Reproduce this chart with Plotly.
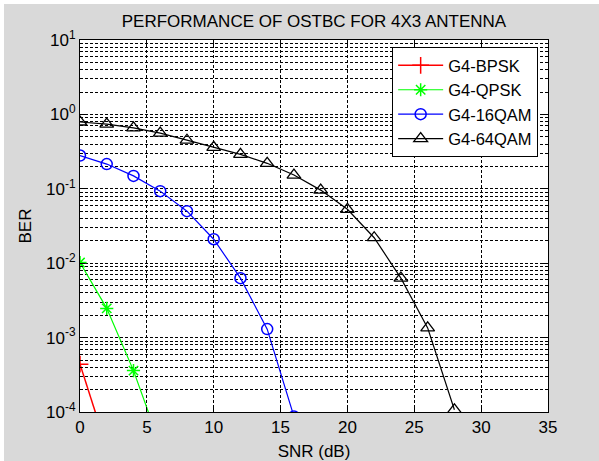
import plotly.graph_objects as go

snr_bpsk = [0, 2]
ber_bpsk = [4.4e-4, 3.3e-5]
snr_qpsk = [0, 2, 4, 6]
ber_qpsk = [1.02e-2, 2.47e-3, 3.6e-4, 3.6e-5]
snr_16qam = [0, 2, 4, 6, 8, 10, 12, 14, 16]
ber_16qam = [0.28, 0.215, 0.149, 0.093, 0.050, 0.021, 0.0063, 0.0013, 8.7e-5]
snr_64qam = [0, 2, 4, 6, 8, 10, 12, 14, 16, 18, 20, 22, 24, 26, 28]
ber_64qam = [0.79, 0.74, 0.66, 0.56, 0.45, 0.36, 0.29, 0.22, 0.153, 0.096,
             0.053, 0.022, 0.0063, 0.00135, 1.07e-4]

y_tickvals = [1e-4, 1e-3, 1e-2, 1e-1, 1e0, 1e1]
y_ticktext = ["10<sup>-4</sup>", "10<sup>-3</sup>", "10<sup>-2</sup>",
              "10<sup>-1</sup>", "10<sup>0</sup>", "10<sup>1</sup>"]

FONT = "Liberation Sans, Arial, sans-serif"
DASH = "3px,2px"

fig = go.Figure()
fig.add_trace(go.Scatter(x=snr_bpsk, y=ber_bpsk, name="G4-BPSK", mode="lines+markers",
                         line=dict(color="#ff0000", width=1.5),
                         marker=dict(symbol="cross-thin", size=12, line=dict(color="#ff0000", width=1.5))))
fig.add_trace(go.Scatter(x=snr_qpsk, y=ber_qpsk, name="G4-QPSK", mode="lines+markers",
                         line=dict(color="#00ff00", width=1.2),
                         marker=dict(symbol="asterisk", size=11, line=dict(color="#00ff00", width=1.5))))
fig.add_trace(go.Scatter(x=snr_16qam, y=ber_16qam, name="G4-16QAM", mode="lines+markers",
                         line=dict(color="#0000ff", width=1.2),
                         marker=dict(symbol="circle-open", size=11, line=dict(color="#0000ff", width=1.5))))
fig.add_trace(go.Scatter(x=snr_64qam, y=ber_64qam, name="G4-64QAM", mode="lines+markers",
                         line=dict(color="#000000", width=1.2),
                         marker=dict(symbol="triangle-up-open", size=12, line=dict(color="#000000", width=1.3))))

fig.update_layout(
    width=595, height=457,
    margin=dict(l=76, r=51, t=36, b=49, autoexpand=False),
    paper_bgcolor="#d9d9d9",
    plot_bgcolor="#ffffff",
    font=dict(family=FONT, size=17, color="#000000"),
    title=dict(text="PERFORMANCE OF OSTBC FOR 4X3 ANTENNA", x=0.5, xref="paper", xanchor="center",
               y=1 - 17 / 457, yanchor="middle", font=dict(size=17, family=FONT, color="#000000")),
    showlegend=True,
    legend=dict(x=0.667, y=0.981, xanchor="left", yanchor="top",
                bgcolor="#ffffff", bordercolor="#000000", borderwidth=1,
                font=dict(size=16.5, family=FONT, color="#000000"), tracegroupgap=0,
                itemwidth=45),
)
fig.update_xaxes(range=[0, 35], dtick=5, showgrid=True, gridcolor="#000000", griddash=DASH,
                 gridwidth=0.8, showline=True, linecolor="#000000", linewidth=1, mirror="ticks",
                 ticks="inside", ticklen=5, tickcolor="#000000", zeroline=False, automargin=False,
                 title=dict(text="SNR (dB)", standoff=8, font=dict(size=17, family=FONT, color="#000000")),
                 tickfont=dict(size=17, family=FONT, color="#000000"))
fig.update_yaxes(type="log", range=[-4, 1], tickvals=y_tickvals, ticktext=y_ticktext,
                 showgrid=True, gridcolor="#000000", griddash=DASH, gridwidth=0.8,
                 showline=True, linecolor="#000000", linewidth=1, mirror="ticks",
                 ticks="inside", ticklen=5, tickcolor="#000000", zeroline=False, automargin=False,
                 minor=dict(dtick="D1", showgrid=True, gridcolor="#000000", griddash=DASH,
                            gridwidth=0.6, ticks="inside", ticklen=3, tickcolor="#000000"),
                 title=dict(text="BER", standoff=10, font=dict(size=17, family=FONT, color="#000000")),
                 tickfont=dict(size=17, family=FONT, color="#000000"))

fig.write_html("out.html",
               post_script="document.body.style.margin='4px 0 0 4px';"
                           "document.body.style.background='#ffffff';")
